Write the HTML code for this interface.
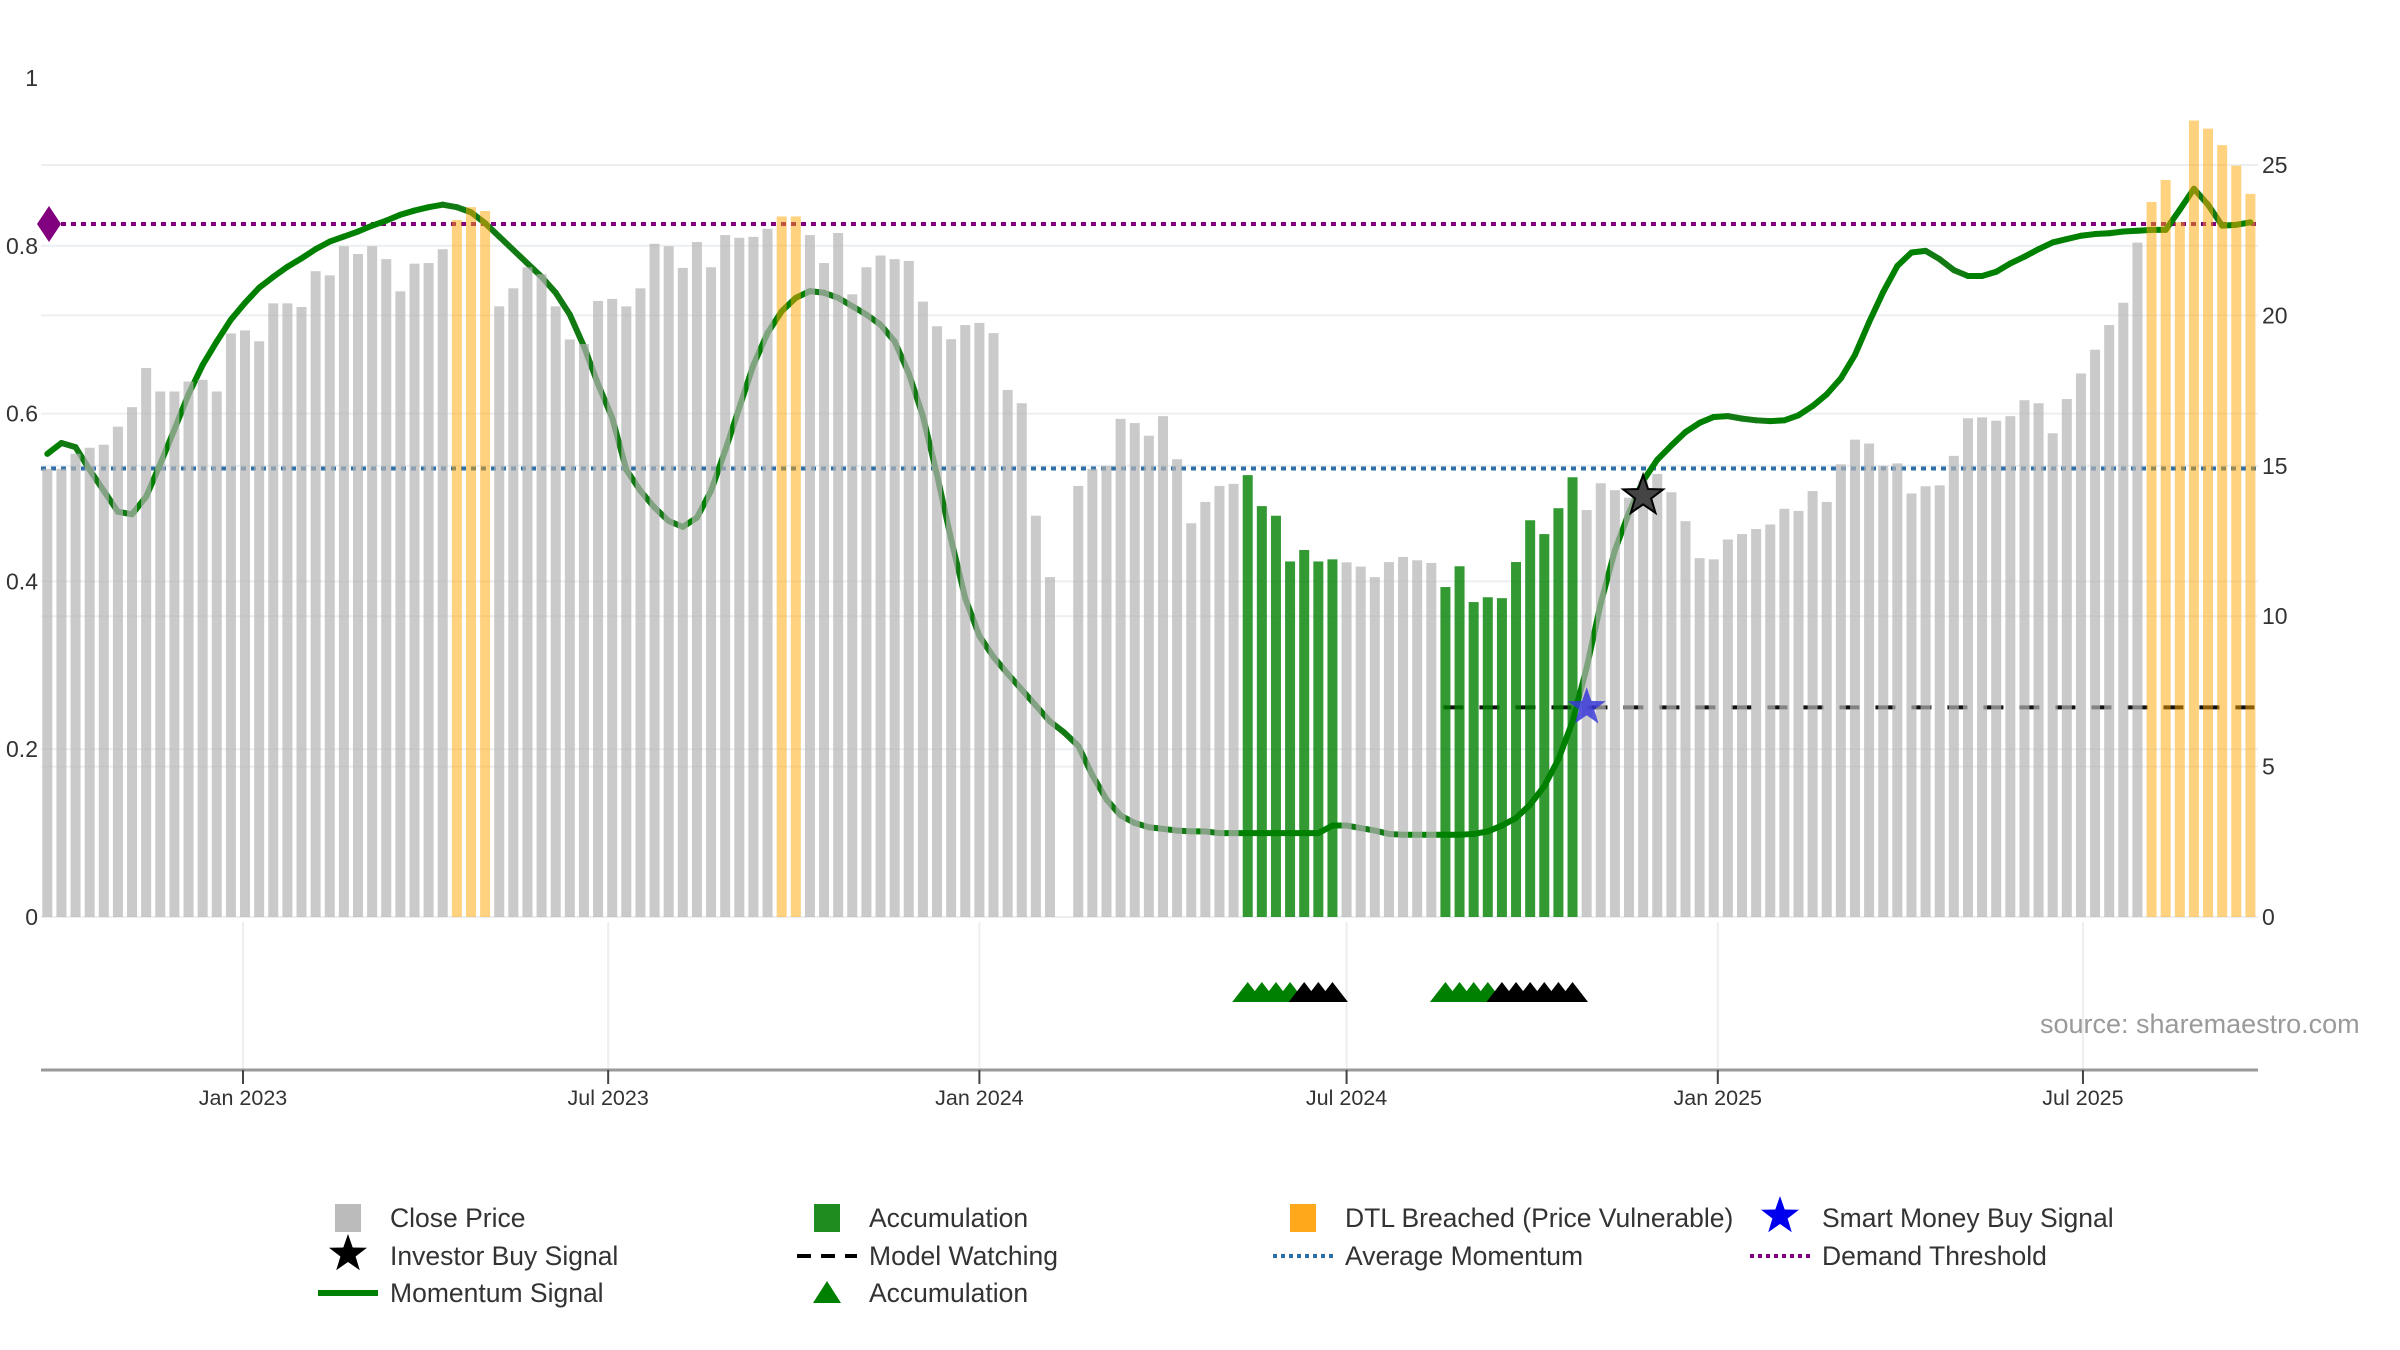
<!DOCTYPE html>
<html><head><meta charset="utf-8">
<style>
html,body{margin:0;padding:0;background:#fff;}
svg{display:block;font-family:"Liberation Sans","DejaVu Sans",sans-serif;}
</style></head>
<body>
<svg id="chart" xmlns="http://www.w3.org/2000/svg" width="2400" height="1350" viewBox="0 0 2400 1350">
<g id="grid"></g>
<g id="lines"></g>
<g id="bars"></g>
<g id="marks"></g>
<g id="axes"></g>
<text x="2040" y="1033" font-size="27" fill="#9a9a9a">source: sharemaestro.com</text>
<g id="legend"></g>
</svg>
<script>
const startDate = "2022-09-26";
const closePrice = [14.9,14.9,15.4,15.6,15.7,16.3,16.95,18.25,17.47,17.47,17.8,17.86,17.47,19.4,19.5,19.14,20.4,20.4,20.28,21.47,21.33,22.3,22.04,22.3,21.87,20.8,21.72,21.74,22.2,23.17,23.6,23.47,20.3,20.9,21.6,21.37,20.3,19.2,19.05,20.48,20.55,20.3,
20.9,22.38,22.3,21.58,22.44,21.6,22.67,22.58,22.61,22.88,23.29,23.29,22.67,21.74,22.74,20.7,21.6,21.99,21.87,21.81,20.46,19.64,19.21,19.68,19.75,19.41,17.52,17.08,13.34,11.3,null,14.33,14.9,15.0,16.56,16.42,16.0,16.65,15.22,13.09,
13.8,14.33,14.4,14.69,13.66,13.34,11.82,12.2,11.82,11.89,11.79,11.65,11.3,11.8,11.97,11.86,11.77,10.97,11.66,10.47,10.63,10.6,11.8,13.19,12.73,13.59,14.62,13.53,14.42,14.19,13.94,14.51,14.73,14.12,13.16,11.93,11.89,12.55,12.73,12.9,
13.05,13.57,13.5,14.16,13.8,15.05,15.87,15.74,15.0,15.08,14.08,14.32,14.35,15.33,16.58,16.61,16.5,16.65,17.18,17.08,16.08,17.22,18.07,18.86,19.68,20.42,22.42,23.77,24.5,23.1,26.48,26.21,25.66,24.98,24.04];
const momentum = [.552,.565,.56,.533,.508,.483,.48,.501,.54,.581,.623,.658,.686,.712,.732,.75,.763,.775,.785,.796,.805,.811,.817,.824,.83,.837,.842,.846,.849,.846,.84,.827,.811,.795,.779,.763,.744,.718,.68,.635,.595,
.533,.508,.488,.472,.465,.476,.508,.556,.607,.658,.696,.722,.738,.746,.744,.738,.728,.718,.706,.686,.648,.597,.527,.45,.38,.335,.31,.29,.271,.252,.233,.22,.204,.169,.14,.121,.112,.107,.105,.103,.102,
.102,.1,.1,.1,.1,.1,.1,.1,.1,.109,.109,.106,.103,.099,.098,.098,.098,.098,.098,.099,.102,.109,.118,.134,.156,.188,.233,.297,.374,.437,.482,.52,.545,.562,.578,.589,.596,.597,.594,.592,
.591,.592,.598,.609,.623,.642,.67,.709,.745,.776,.792,.794,.784,.771,.764,.764,.769,.779,.787,.796,.804,.808,.812,.814,.815,.817,.818,.819,.819,.843,.868,.849,.824,.825,.828];
const dtlRanges = [[30,32],[53,54],[150,157]];
const accRanges = [[86,92],[100,109]];
const accTriGreen = [86,87,88,89,100,101,102,103];
const accTriBlack = [90,91,92,104,105,106,107,108,109];
const demandThreshold = 0.826;
const avgMomentum = 0.5346;
const watchingLevel = 6.97;
const watchingStart = 100;
const smartMoneyBuy = [{i:110, p:6.97}];
const investorBuy = [{i:114, p:14.0}];
const priceTicks = [0,5,10,15,20,25];
const momTicks = [0,0.2,0.4,0.6,0.8,1];
const momTickLabels = ["0","0.2","0.4","0.6","0.8","1"];
const dateTicks = ["2023-01-01","2023-07-01","2024-01-01","2024-07-01","2025-01-01","2025-07-01"];
const dateTickLabels = ["Jan 2023","Jul 2023","Jan 2024","Jul 2024","Jan 2025","Jul 2025"];

const NS = "http://www.w3.org/2000/svg";
const X0 = 41, X1 = 2258;
const day0 = Date.parse("2023-01-01");
function xDate(ms){ return 243 + (ms - day0)/86400000*2.0175; }
function xBar(i){ return xDate(Date.parse(startDate) + (i-1)*7*86400000); }
function yP(p){ return 917 - p*30.08; }
function yM(m){ return 917 - m*839; }
function mk(tag, attrs, parent){ const e=document.createElementNS(NS,tag); for(const k in attrs) e.setAttribute(k,attrs[k]); parent.appendChild(e); return e; }
function inR(i, rs){ return rs.some(r=>i>=r[0]&&i<=r[1]); }
function star(cx,cy,R,r){ let s=""; for(let k=0;k<10;k++){ const a=-Math.PI/2+k*Math.PI/5, rr=k%2?r:R; s+=(k?"L":"M")+(cx+rr*Math.cos(a)).toFixed(1)+","+(cy+rr*Math.sin(a)).toFixed(1);} return s+"Z"; }

const grid=document.getElementById("grid"), lines=document.getElementById("lines"), bars=document.getElementById("bars"), marks=document.getElementById("marks"), axes=document.getElementById("axes"), legend=document.getElementById("legend");

priceTicks.forEach(p=>{ if(p===0) return; const g=mk("line",{x1:X0,x2:X1,y1:yP(p),y2:yP(p),stroke:"#eceff2","stroke-width":2},grid);
  });
momTicks.forEach(m=>{ if(m===0||m===1) return; const g=mk("line",{x1:X0,x2:X1,y1:yM(m),y2:yM(m),stroke:"#eceff2","stroke-width":2},grid);
  });
mk("line",{x1:X0,x2:X1,y1:917,y2:917,stroke:"#eceff2","stroke-width":2},grid);
dateTicks.forEach(d=>{ const x=xDate(Date.parse(d)); const g=mk("line",{x1:x,x2:x,y1:922,y2:1070,stroke:"#eceff2","stroke-width":2},grid);
  });

let l=mk("line",{x1:X0,x2:X1,y1:yM(avgMomentum),y2:yM(avgMomentum),stroke:"#2e6fa8","stroke-width":4,"stroke-dasharray":"5,5"},lines);
 
l=mk("line",{x1:X0,x2:X1,y1:yM(demandThreshold),y2:yM(demandThreshold),stroke:"#800080","stroke-width":4,"stroke-dasharray":"5,5"},lines);
 
l=mk("line",{x1:xBar(watchingStart)-2,x2:xBar(closePrice.length)+4,y1:yP(watchingLevel),y2:yP(watchingLevel),stroke:"#111","stroke-width":4,"stroke-dasharray":"20,16"},lines);
 

for(let i=1;i<momentum.length;i++){
  const up = momentum[i] >= momentum[i-1];
  const s=mk("line",{x1:xBar(i),y1:yM(momentum[i-1]),x2:xBar(i+1),y2:yM(momentum[i]),stroke:up?"#008000":"#127a12","stroke-width":6,"stroke-linecap":"round"},lines);
   
}

closePrice.forEach((p,k)=>{
  if(p===null) return; const i=k+1;
  let fill="rgb(180,180,180)", op=0.7, name="close-price-bar";
  if(inR(i,dtlRanges)){ fill="rgb(255,165,0)"; op=0.5; name="dtl-breached-bar"; }
  else if(inR(i,accRanges)){ fill="rgb(0,128,0)"; op=0.8; name="accumulation-bar"; }
  const b=mk("rect",{x:xBar(i)-5,y:yP(p),width:10,height:917-yP(p),fill:fill,"fill-opacity":op},bars);
   
});

let dm=mk("path",{d:`M${X0-4},${yM(demandThreshold)} l12,-18 l12,18 l-12,18z`,fill:"#800080"},marks);
 

function tri(i,color){ const x=xBar(i); const t=mk("path",{d:`M${x-15.5},1002 L${x},982 L${x+15.5},1002Z`,fill:color},marks);
  }
accTriGreen.forEach(i=>tri(i,"#008000"));
accTriBlack.forEach(i=>tri(i,"#000"));

smartMoneyBuy.forEach(s=>{ const e=mk("path",{d:star(xBar(s.i),yP(s.p),20,8),fill:"#3a3ad8","fill-opacity":0.85},marks);
  });
investorBuy.forEach(s=>{ const e=mk("path",{d:star(xBar(s.i),yP(s.p),21,8.5),fill:"#444",stroke:"#000","stroke-width":2},marks);
  });

let ax=mk("line",{x1:X0,x2:X1,y1:1070,y2:1070,stroke:"#999","stroke-width":3},axes);
 
dateTicks.forEach((d,k)=>{ const x=xDate(Date.parse(d));
  const t=mk("line",{x1:x,x2:x,y1:1070,y2:1084,stroke:"#444","stroke-width":2},axes);
   
  const tx=mk("text",{x:x,y:1105,"font-size":21.5,"text-anchor":"middle",fill:"#333"},axes); tx.textContent=dateTickLabels[k];
   
});
momTicks.forEach((m,k)=>{ const t=mk("text",{x:38,y:yM(m)+8,"font-size":23,"text-anchor":"end",fill:"#333"},axes); t.textContent=momTickLabels[k];
  });
priceTicks.forEach(p=>{ const t=mk("text",{x:2262,y:yP(p)+8,"font-size":23,fill:"#333"},axes); t.textContent=String(p);
  });

const legItems = [
 ["Close Price","rect","#bbb",348,1218],["Accumulation","rect","#1e8c1e",827,1218],["DTL Breached (Price Vulnerable)","rect","#ffa81c",1303,1218],["Smart Money Buy Signal","bstar","#0000ee",1780,1218],
 ["Investor Buy Signal","kstar","#000",348,1256],["Model Watching","dash","#000",827,1256],["Average Momentum","dotb","#2e6fa8",1303,1256],["Demand Threshold","dotp","#800080",1780,1256],
 ["Momentum Signal","line","#008000",348,1293],["Accumulation","tri","#008000",827,1293]];
legItems.forEach(it=>{
  const [label,type,color,x,y]=it;
  const g=mk("g",{},legend);
   
  if(type==="rect") mk("rect",{x:x-13,y:y-14,width:26,height:28,fill:color},g);
  else if(type==="bstar") mk("path",{d:star(x,y-2,20,8),fill:color},g);
  else if(type==="kstar") mk("path",{d:star(x,y-2,20,8),fill:color},g);
  else if(type==="dash") mk("line",{x1:x-30,x2:x+30,y1:y,y2:y,stroke:color,"stroke-width":4,"stroke-dasharray":"14,10"},g);
  else if(type==="dotb"||type==="dotp") mk("line",{x1:x-30,x2:x+30,y1:y,y2:y,stroke:color,"stroke-width":4,"stroke-dasharray":"4,4"},g);
  else if(type==="line") mk("line",{x1:x-30,x2:x+30,y1:y,y2:y,stroke:color,"stroke-width":6},g);
  else if(type==="tri") mk("path",{d:`M${x-14},${y+10} L${x},${y-12} L${x+14},${y+10}Z`,fill:color},g);
  const t=mk("text",{x:x+42,y:y+9,"font-size":26.5,fill:"#333"},g); t.textContent=label;
});
</script>
</body></html>
